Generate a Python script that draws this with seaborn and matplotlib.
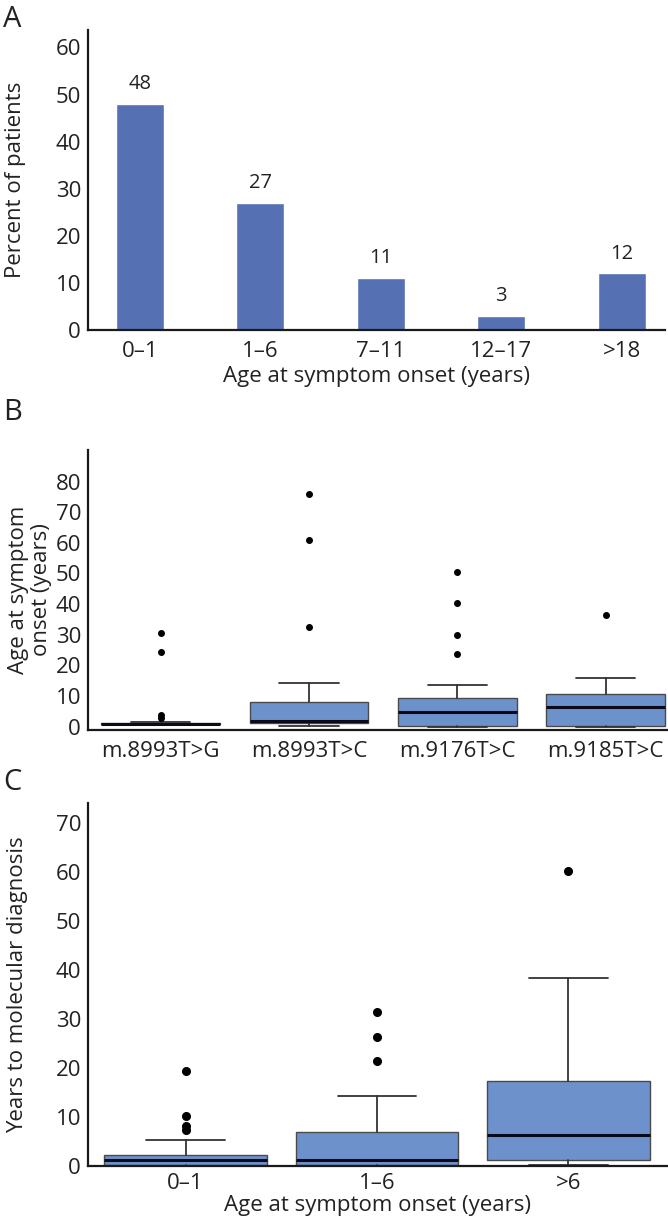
import matplotlib
matplotlib.use("Agg")
import matplotlib.pyplot as plt
import seaborn as sns
import pandas as pd

# ---------------- data ----------------
onset_groups = ["0–1", "1–6", "7–11", "12–17", ">18"]
onset_percent = [48, 27, 11, 3, 12]

variants = ["m.8993T>G", "m.8993T>C", "m.9176T>C", "m.9185T>C"]
b_whislo = [1.0, 0.2, 0.0, 0.0]
b_q1 = [0.9, 1.1, 0.2, 0.3]
b_med = [1.0, 2.0, 4.8, 6.5]
b_q3 = [1.1, 8.2, 9.5, 10.7]
b_whishi = [1.6, 14.1, 13.5, 15.8]
b_fliers = [[2.8, 3.8, 24.5, 30.5], [32.5, 61.0, 76.0], [23.8, 30.0, 40.5, 50.5], [36.3]]

diag_groups = ["0–1", "1–6", ">6"]
c_whislo = [0.0, 0.0, 0.2]
c_q1 = [0.1, 0.1, 1.2]
c_med = [1.2, 1.2, 6.3]
c_q3 = [2.1, 6.8, 17.2]
c_whishi = [5.2, 14.3, 38.3]
c_fliers = [[7.2, 8.0, 10.2, 19.3], [21.3, 26.3, 31.4], [60.3]]

# ---------------- style ----------------
sns.set_theme(style="ticks")
plt.rcParams["font.family"] = ["Open Sans", "DejaVu Sans"]
plt.rcParams["axes.linewidth"] = 1.6
plt.rcParams["axes.edgecolor"] = "#1a1a1a"
TXT = "#222222"
FS = 16

W, H = 668, 1219
fig = plt.figure(figsize=(W / 100, H / 100), dpi=100)


def axes_px(left, top, right, bottom):
    return fig.add_axes([left / W, 1 - bottom / H, (right - left) / W, (bottom - top) / H])


BAR_COLOR = "#5571b4"
BOX_COLOR = "#6d91cb"

# ---------------- Panel A ----------------
axA = axes_px(88, 30, 665, 330)
dfA = pd.DataFrame({"group": onset_groups, "pct": onset_percent})
sns.barplot(data=dfA, x="group", y="pct", color=BAR_COLOR, width=0.4,
            saturation=1, ax=axA)
for cont in axA.containers:
    axA.bar_label(cont, padding=7, fontsize=14.5, color=TXT)
axA.set_ylim(0, 63.7)
axA.set_xlim(-0.43, 4.36)
axA.set_yticks(range(0, 61, 10))
axA.set_ylabel("Percent of patients", fontsize=FS, color=TXT)
axA.set_xlabel("Age at symptom onset (years)", fontsize=FS, color=TXT, labelpad=3)
axA.yaxis.set_label_coords(-0.108, 0.5)

# ---------------- box helper ----------------
def draw_boxes(ax, labels, whislo, q1, med, q3, whishi, fliers, width, capw, msize):
    stats = []
    for i, lab in enumerate(labels):
        stats.append(dict(label=lab, whislo=whislo[i], q1=q1[i], med=med[i],
                          q3=q3[i], whishi=whishi[i], fliers=fliers[i]))
    ax.bxp(stats, positions=range(len(labels)), widths=width, capwidths=capw,
           patch_artist=True, manage_ticks=False,
           boxprops=dict(facecolor=BOX_COLOR, edgecolor="#4a4a4a", linewidth=1.0),
           medianprops=dict(color="#0a0a1a", linewidth=2.2),
           whiskerprops=dict(color="#333333", linewidth=1.3),
           capprops=dict(color="#333333", linewidth=1.3),
           flierprops=dict(marker="o", markerfacecolor="black",
                           markeredgecolor="black", markersize=msize))
    ax.set_xticks(range(len(labels)))
    ax.set_xticklabels(labels)


# ---------------- Panel B ----------------
axB = axes_px(88, 450, 668, 730)
draw_boxes(axB, variants, b_whislo, b_q1, b_med, b_q3, b_whishi, b_fliers,
           width=0.8, capw=0.4, msize=4)
axB.set_ylim(-1.1, 90.3)
axB.set_xlim(-0.49, 3.42)
axB.set_yticks(range(0, 81, 10))
axB.set_ylabel("Age at symptom\nonset (years)", fontsize=FS, color=TXT,
               linespacing=1.1)
axB.yaxis.set_label_coords(-0.062, 0.5)

# ---------------- Panel C ----------------
axC = axes_px(88, 803, 668, 1166)
draw_boxes(axC, diag_groups, c_whislo, c_q1, c_med, c_q3, c_whishi, c_fliers,
           width=0.85, capw=0.41, msize=5.5)
axC.set_ylim(-0.1, 74.1)
axC.set_xlim(-0.51, 2.52)
axC.set_yticks(range(0, 71, 10))
axC.set_ylabel("Years to molecular diagnosis", fontsize=FS, color=TXT)
axC.set_xlabel("Age at symptom onset (years)", fontsize=FS, color=TXT, labelpad=1)
axC.yaxis.set_label_coords(-0.104, 0.5)

for ax in (axA, axB, axC):
    sns.despine(ax=ax)
    ax.tick_params(axis="both", length=0, labelsize=FS, labelcolor=TXT)
    ax.tick_params(axis="y", pad=5)
    ax.tick_params(axis="x", pad=8)
    ax.set_facecolor("white")
axC.tick_params(axis="x", pad=5)

# panel letters
for letter, ytop in (("A", 5), ("B", 398), ("C", 768)):
    fig.text(3 / W, 1 - ytop / H, letter, fontsize=21, color=TXT,
             ha="left", va="top")

fig.savefig("out.png", dpi=100, facecolor="white")
